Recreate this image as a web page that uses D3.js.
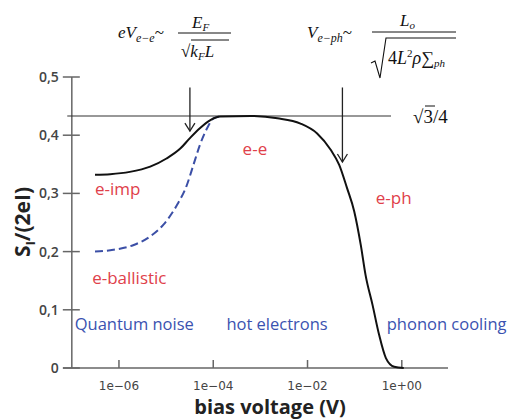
<!DOCTYPE html>
<html>
<head>
<meta charset="utf-8">
<script src="https://cdn.jsdelivr.net/npm/d3@7"></script>
<style>
  body { margin: 0; background: #fff; }
  svg { display: block; }
  .math { font-family: "Liberation Serif", "DejaVu Serif", serif; font-style: italic; }
</style>
</head>
<body>
<div class="chart"></div>
<script>
// black curve (e-imp / e-e / e-ph), voltage in V
const blackV = [3.1e-7, 6.5e-7, 1.7e-6, 4.6e-6, 1.02e-5, 2.0e-5, 3.2e-5, 5.2e-5, 8.7e-5, 1.4e-4, 6.3e-4, 2.3e-3, 7.1e-3, 1.6e-2, 3.1e-2, 4.7e-2, 6.9e-2, 9.8e-2, 0.135, 0.17, 0.24, 0.33, 0.46, 0.69, 1.1]
const blackS = [0.332, 0.333, 0.337, 0.346, 0.360, 0.377, 0.395, 0.412, 0.426, 0.432, 0.433, 0.429, 0.420, 0.403, 0.375, 0.349, 0.309, 0.269, 0.211, 0.160, 0.108, 0.057, 0.017, 0.002, 0.0]
// blue dashed curve (ballistic)
const blueV = [3.1e-7, 7.6e-7, 2.0e-6, 4.6e-6, 8.7e-6, 1.7e-5, 2.75e-5, 3.8e-5, 5.2e-5, 7.4e-5, 1.02e-4, 1.4e-4]
const blueS = [0.200, 0.203, 0.211, 0.226, 0.246, 0.280, 0.314, 0.349, 0.383, 0.412, 0.429, 0.432]

const xTicks = [1e-6, 1e-4, 1e-2, 1]
const xTickLabels = ["1e\u221206", "1e\u221204", "1e\u221202", "1e+00"]
const yTicks = [0, 0.1, 0.2, 0.3, 0.4, 0.5]
const yTickLabels = ["0", "0,1", "0,2", "0,3", "0,4", "0,5"]

const plateau = Math.sqrt(3) / 4
const plateauSpan = [8e-8, 0.59]
const arrows = [ {v: 3.2e-5, top: 0.482, tip: 0.407}, {v: 0.055, top: 0.482, tip: 0.354} ]

const redLabels = [
  {text: "e-imp", v: 3.1e-7, s: 0.297},
  {text: "e-ballistic", v: 2.7e-7, s: 0.144},
  {text: "e-e", v: 4.2e-4, s: 0.366},
  {text: "e-ph", v: 0.28, s: 0.282}
]
const blueLabels = [
  {text: "Quantum noise", v: 1.15e-7},
  {text: "hot electrons", v: 1.9e-4},
  {text: "phonon cooling", v: 0.48}
]

const width = 514
const height = 419
const svg = d3.select(".chart").append("svg")
  .attr("width", width)
  .attr("height", height)

const x = d3.scaleLog().domain([6.5e-8, 9.55]).range([63, 448])
const y = d3.scaleLinear().domain([0, 0.5]).range([368, 77])
const axisCol = "#666"

// axes
svg.append("line")
  .attr("x1", x(1e-7)).attr("x2", x(1e-7))
  .attr("y1", y(0.5)).attr("y2", y(0))
  .attr("stroke", axisCol).attr("stroke-width", 1.5)
svg.append("line")
  .attr("x1", x.range()[0]).attr("x2", x.range()[1])
  .attr("y1", y(0)).attr("y2", y(0))
  .attr("stroke", axisCol).attr("stroke-width", 1.5)

svg.selectAll(".ytick")
  .data(yTicks)
  .join("line")
  .attr("x1", x(1e-7) - 9).attr("x2", x(1e-7) + 8)
  .attr("y1", d => y(d)).attr("y2", d => y(d))
  .attr("stroke", axisCol).attr("stroke-width", 1.5)
svg.selectAll(".ylab")
  .data(yTicks)
  .join("text")
  .attr("x", x(1e-7) - 13)
  .attr("y", d => y(d) + 5)
  .attr("text-anchor", "end")
  .attr("font-family", "Open Sans, sans-serif")
  .attr("font-size", 14)
  .attr("font-weight", 600)
  .attr("fill", "#444")
  .text((d, i) => yTickLabels[i])

svg.selectAll(".xtick")
  .data(xTicks)
  .join("line")
  .attr("x1", d => x(d)).attr("x2", d => x(d))
  .attr("y1", y(0)).attr("y2", y(0) - 8)
  .attr("stroke", axisCol).attr("stroke-width", 1.5)
svg.selectAll(".xlab")
  .data(xTicks)
  .join("text")
  .attr("x", d => x(d))
  .attr("y", y(0) + 22)
  .attr("text-anchor", "middle")
  .attr("font-family", "DejaVu Sans, sans-serif")
  .attr("font-size", 12)
  .attr("fill", "#444")
  .text((d, i) => xTickLabels[i])

// axis titles
svg.append("text")
  .attr("x", 270).attr("y", 414)
  .attr("text-anchor", "middle")
  .attr("font-family", "Open Sans, sans-serif")
  .attr("font-size", 20).attr("font-weight", 700)
  .attr("fill", "#222")
  .text("bias voltage (V)")
const yt = svg.append("text")
  .attr("transform", "translate(30,222) rotate(-90)")
  .attr("text-anchor", "middle")
  .attr("font-family", "Open Sans, sans-serif")
  .attr("font-size", 21).attr("font-weight", 700)
  .attr("fill", "#222")
yt.append("tspan").text("S")
yt.append("tspan").attr("font-size", 13).attr("dy", 5).text("I")
yt.append("tspan").attr("dy", -5).text("/(2eI)")

// plateau line
svg.append("line")
  .attr("x1", x(plateauSpan[0])).attr("x2", x(plateauSpan[1]))
  .attr("y1", y(plateau)).attr("y2", y(plateau))
  .attr("stroke", "#333").attr("stroke-width", 1.2)

// curves
const line = d3.line().x(d => x(d[0])).y(d => y(d[1])).curve(d3.curveMonotoneX)
svg.append("path")
  .attr("d", line(blueV.map((v, i) => [v, blueS[i]])))
  .attr("fill", "none").attr("stroke", "#3b4fa6")
  .attr("stroke-width", 2).attr("stroke-dasharray", "8,4")
svg.append("path")
  .attr("d", line(blackV.map((v, i) => [v, blackS[i]])))
  .attr("fill", "none").attr("stroke", "#111").attr("stroke-width", 2)

// arrows
arrows.forEach(a => {
  const ax = x(a.v)
  svg.append("line")
    .attr("x1", ax).attr("x2", ax)
    .attr("y1", y(a.top)).attr("y2", y(a.tip))
    .attr("stroke", "#222").attr("stroke-width", 1.3)
  svg.append("path")
    .attr("d", `M${ax - 5},${y(a.tip) - 8}L${ax},${y(a.tip)}L${ax + 5},${y(a.tip) - 8}`)
    .attr("fill", "none").attr("stroke", "#222").attr("stroke-width", 1.3)
})

// labels
svg.selectAll(".red")
  .data(redLabels)
  .join("text")
  .attr("x", d => x(d.v)).attr("y", d => y(d.s))
  .attr("font-family", "Open Sans, sans-serif")
  .attr("font-size", 17)
  .attr("fill", "#e0404a")
  .text(d => d.text)
svg.selectAll(".blue")
  .data(blueLabels)
  .join("text")
  .attr("x", d => x(d.v)).attr("y", y(0.066))
  .attr("font-family", "Open Sans, sans-serif")
  .attr("font-size", 16.5)
  .attr("fill", "#3a52b0")
  .text(d => d.text)

// sqrt(3)/4 label
svg.append("text")
  .attr("x", 413).attr("y", 123)
  .attr("font-family", "Liberation Serif, serif")
  .attr("font-size", 19).attr("fill", "#111")
  .text("\u221A3/4")
svg.append("line").attr("x1", 425).attr("x2", 435).attr("y1", 106).attr("y2", 106)
  .attr("stroke", "#111").attr("stroke-width", 1)

// formula 1
const f1 = svg.append("text").attr("class", "math")
  .attr("x", 118).attr("y", 38).attr("font-size", 17).attr("fill", "#111")
f1.append("tspan").text("eV")
f1.append("tspan").attr("font-size", 12).attr("dy", 4).text("e\u2212e")
f1.append("tspan").attr("dy", -4).attr("font-style", "normal").text("~")
svg.append("line").attr("x1", 178).attr("x2", 231).attr("y1", 33).attr("y2", 33)
  .attr("stroke", "#111").attr("stroke-width", 1)
const n1 = svg.append("text").attr("class", "math")
  .attr("x", 192).attr("y", 28).attr("font-size", 17).attr("fill", "#111")
n1.append("tspan").text("E")
n1.append("tspan").attr("font-size", 11).attr("dy", 3).text("F")
const d1 = svg.append("text").attr("class", "math")
  .attr("x", 181).attr("y", 57).attr("font-size", 17).attr("fill", "#111")
d1.append("tspan").attr("font-style", "normal").text("\u221A")
d1.append("tspan").text("k")
d1.append("tspan").attr("font-size", 11).attr("dy", 3).text("F")
d1.append("tspan").attr("dy", -3).text("L")
svg.append("line").attr("x1", 191).attr("x2", 229).attr("y1", 40).attr("y2", 40)
  .attr("stroke", "#111").attr("stroke-width", 1)

// formula 2
const f2 = svg.append("text").attr("class", "math")
  .attr("x", 307).attr("y", 38).attr("font-size", 17).attr("fill", "#111")
f2.append("tspan").text("V")
f2.append("tspan").attr("font-size", 12).attr("dy", 4).text("e\u2212ph")
f2.append("tspan").attr("dy", -4).attr("font-style", "normal").text("~")
svg.append("line").attr("x1", 372).attr("x2", 456).attr("y1", 32).attr("y2", 32)
  .attr("stroke", "#111").attr("stroke-width", 1)
const n2 = svg.append("text").attr("class", "math")
  .attr("x", 400).attr("y", 26).attr("font-size", 17).attr("fill", "#111")
n2.append("tspan").text("L")
n2.append("tspan").attr("font-size", 11).attr("dy", 3).text("o")
svg.append("path")
  .attr("d", "M371,63L375,61L380,78L386,38L456,38")
  .attr("fill", "none").attr("stroke", "#111").attr("stroke-width", 1.1)
const d2 = svg.append("text").attr("class", "math")
  .attr("x", 388).attr("y", 64).attr("font-size", 18).attr("fill", "#111")
d2.append("tspan").attr("font-style", "normal").text("4")
d2.append("tspan").text("L")
d2.append("tspan").attr("font-size", 11).attr("dy", -7).attr("font-style", "normal").text("2")
d2.append("tspan").attr("dy", 7).text("\u03C1")
d2.append("tspan").attr("font-style", "normal").text("\u2211")
d2.append("tspan").attr("font-size", 11).attr("dy", 3).text("ph")
</script>
</body>
</html>
